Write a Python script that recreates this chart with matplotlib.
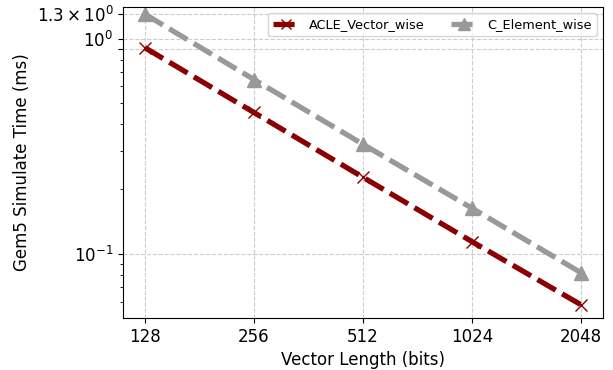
import matplotlib
matplotlib.use('Agg')
from matplotlib import pyplot as plt
from matplotlib.ticker import NullFormatter, FixedLocator

vector_length = [128, 256, 512, 1024, 2048]
acle_vector_wise = [0.908, 0.454, 0.227, 0.114, 0.058]
c_element_wise = [1.3, 0.646, 0.323, 0.163, 0.0817]
y_ticks = [0.1, 0.9, 1.0, 1.3]
y_tick_labels = ['$\\mathdefault{10^{-1}}$', '', '$\\mathdefault{10^{0}}$',
                 '$\\mathdefault{1.3\\times10^{0}}$']
y_minor = [0.06, 0.07, 0.08, 0.09, 0.2, 0.3, 0.4, 0.5, 0.6, 0.7, 0.8]

x_label = 'Vector Length (bits)'
y_label = 'Gem5 Simulate Time (ms)'

fig, ax = plt.subplots(figsize=(6.13, 3.70), dpi=100)
fig.subplots_adjust(left=0.2007, right=0.9837, top=0.982, bottom=0.140)

ax.plot(vector_length, acle_vector_wise, color='#8b0000', lw=3.8, dashes=(4, 1.4),
        marker='x', markersize=9, mew=1.0, label='ACLE_Vector_wise')
ax.plot(vector_length, c_element_wise, color='#999999', lw=3.8, dashes=(4, 1.4),
        marker='^', markersize=10, label='C_Element_wise')

ax.set_xscale('log', base=2)
ax.set_yscale('log')
ax.set_xticks(vector_length)
ax.set_xticklabels([str(v) for v in vector_length])
ax.xaxis.set_minor_locator(FixedLocator([]))
ax.set_yticks(y_ticks)
ax.set_yticklabels(y_tick_labels)
ax.yaxis.set_minor_locator(FixedLocator(y_minor))
ax.yaxis.set_minor_formatter(NullFormatter())
ax.set_ylim(0.0503, 1.408)

ax.tick_params(labelsize=12)
ax.grid(True, which='major', linestyle='--', color='#cccccc', lw=0.8)
ax.set_xlabel(x_label, size=12)
ax.set_ylabel(y_label, size=12)
ax.legend(loc='upper right', ncol=2, fontsize=9.3, markerscale=0.8)

plt.savefig('out.png')
